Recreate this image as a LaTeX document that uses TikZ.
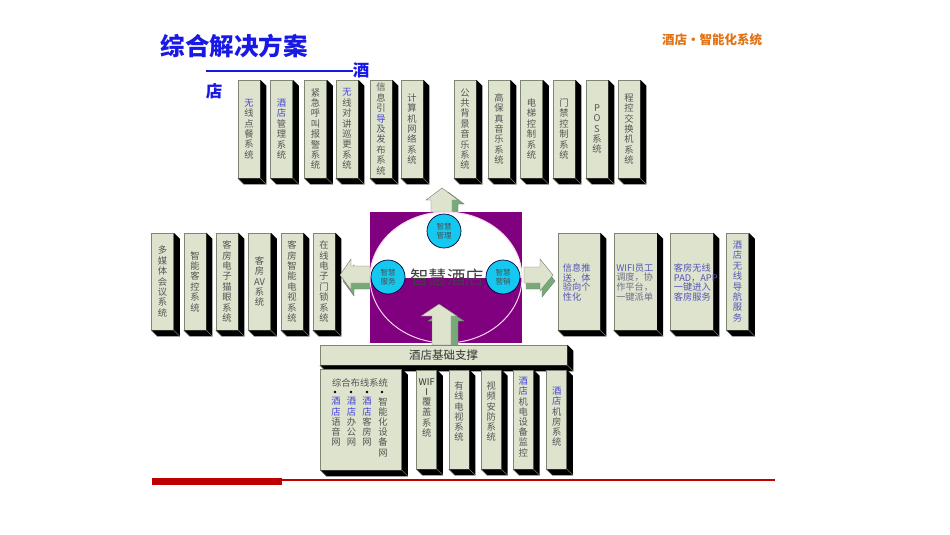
\documentclass[tikz,border=0pt]{standalone}
\usepackage{fontspec}
\setmainfont{Noto Sans CJK SC}
\usetikzlibrary{calc}
\definecolor{boxfill}{RGB}{221,227,204}
\definecolor{framegray}{RGB}{125,135,115}
\definecolor{txtgray}{RGB}{85,85,85}
\definecolor{txtblue}{RGB}{70,70,215}
\definecolor{rtblue}{RGB}{85,85,185}
\definecolor{rtgray}{RGB}{110,110,140}
\definecolor{titleblue}{RGB}{25,25,230}
\definecolor{orangeT}{RGB}{225,115,20}
\definecolor{hotelpurple}{RGB}{128,0,128}
\definecolor{cyanc}{RGB}{20,200,240}
\definecolor{arrgreen}{RGB}{120,170,120}
\definecolor{redline}{RGB}{190,0,0}
\definecolor{edgegray}{RGB}{110,120,110}
\newcommand{\blu}[1]{\textcolor{txtblue}{#1}}
\newcommand{\depthbox}[1]{%
  \fill[black] (#1.north east) -- ++(6,6) -- ($(#1.south east)+(6,6)$) -- ($(#1.south west)+(6,6)$) -- (#1.south west) -- (#1.south east) -- cycle;
  \draw[edgegray, line width=0.6] (#1.south west) -- ++(6,6) (#1.south east) -- ++(6,6);
}
\tikzset{
  fbox/.style={draw=framegray, line width=0.5, fill=boxfill, inner sep=0pt, align=center, text=txtgray, font=\fontsize{9.3}{10.4}\selectfont},
  tbox/.style={fbox, minimum width=22, minimum height=98},
  mbox/.style={fbox, minimum width=22, minimum height=97},
  sbox/.style={fbox, minimum width=20, minimum height=99},
  vt/.style={inner sep=0pt, align=center, text=txtgray, font=\fontsize{9.3}{10.2}\selectfont},
  rt/.style={inner sep=0pt, align=left, text=rtblue, font=\fontsize{9.2}{9.8}\selectfont},
  smartc/.style={circle, minimum size=34, inner sep=0pt, fill=cyanc, draw=black!80!blue, line width=0.7, align=center, text=black!70, font=\fontsize{7.5}{8.5}\selectfont},
  arrfront/.style={fill=boxfill, draw=edgegray, line width=0.4},
  arrback/.style={fill=arrgreen, draw=edgegray, line width=0.4},
}
\begin{document}
\begin{tikzpicture}[x=1pt,y=-1pt]
\fill[white] (0,0) rectangle (950,535);
\useasboundingbox (0,0) rectangle (950,535);

% titles
\node[inner sep=0, font=\fontsize{24.5}{25}\selectfont\bfseries, text=titleblue] (title) at (234,46) {综合解决方案};
\node[inner sep=0, font=\fontsize{16.5}{17}\selectfont\bfseries, text=titleblue] (jiu) at (361,70) {酒};
\node[inner sep=0, font=\fontsize{16.5}{17}\selectfont\bfseries, text=titleblue] (dian) at (214,91) {店};
\coordinate (lstart) at (206,71);
\draw[titleblue, line width=1.5] (lstart) -- (jiu.west |- lstart);
\node[inner sep=0, font=\fontsize{12.5}{13}\selectfont\bfseries, text=orangeT] (sub) at (712,40) {酒店•智能化系统};

% top boxes left group
\node[tbox] (ta1) at (249,129) {\blu{无}\\线\\点\\餐\\系\\统}; \depthbox{ta1}
\node[tbox] (ta2) at (281.5,129) {\blu{酒}\\\blu{店}\\管\\理\\系\\统}; \depthbox{ta2}
\node[tbox] (ta3) at (315.5,129) {紧\\急\\呼\\叫\\报\\警\\系\\统}; \depthbox{ta3}
\node[tbox] (ta4) at (347,129) {\blu{无}\\线\\对\\讲\\巡\\更\\系\\统}; \depthbox{ta4}
\node[tbox] (ta5) at (381,129) {信\\息\\引\\\blu{导}\\及\\发\\布\\系\\统}; \depthbox{ta5}
\node[tbox] (ta6) at (412,129) {计\\算\\机\\网\\络\\系\\统}; \depthbox{ta6}
% top boxes right group
\node[tbox] (tb1) at (465,129) {公\\共\\背\\景\\音\\乐\\系\\统}; \depthbox{tb1}
\node[tbox] (tb2) at (499,129) {高\\保\\真\\音\\乐\\系\\统}; \depthbox{tb2}
\node[tbox] (tb3) at (531.5,129) {电\\梯\\控\\制\\系\\统}; \depthbox{tb3}
\node[tbox] (tb4) at (564,129) {门\\禁\\控\\制\\系\\统}; \depthbox{tb4}
\node[tbox] (tb5) at (597,129) {P\\O\\S\\系\\统}; \depthbox{tb5}
\node[tbox] (tb6) at (629,129) {程\\控\\交\\换\\机\\系\\统}; \depthbox{tb6}

% middle left boxes
\node[mbox] (m1) at (162.5,281.5) {多\\媒\\体\\会\\议\\系\\统}; \depthbox{m1}
\node[mbox] (m2) at (195,281.5) {智\\能\\客\\控\\系\\统}; \depthbox{m2}
\node[mbox] (m3) at (227,281.5) {客\\房\\电\\子\\猫\\眼\\系\\统}; \depthbox{m3}
\node[mbox] (m4) at (259.5,281.5) {客\\房\\AV\\系\\统}; \depthbox{m4}
\node[mbox] (m5) at (292,281.5) {客\\房\\智\\能\\电\\视\\系\\统}; \depthbox{m5}
\node[mbox] (m6) at (324,281.5) {在\\线\\电\\子\\门\\锁\\系\\统}; \depthbox{m6}

% middle right boxes
\node[fbox, minimum width=42, minimum height=97] (r1) at (579,281.5) {}; \depthbox{r1}
\node[fbox, minimum width=43, minimum height=97] (r2) at (635.3,281.5) {}; \depthbox{r2}
\node[fbox, minimum width=43, minimum height=97] (r3) at (691.5,281.5) {}; \depthbox{r3}
\node[fbox, minimum width=22, minimum height=97, text=rtblue] (r4) at (737.5,281.5) {酒\\店\\无\\线\\导\\航\\服\\务}; \depthbox{r4}
\node[rt, anchor=west] (r1t) at ($(r1.west)+(5,1)$) {信息推\\送，体\\验向个\\性化};
\node[rt, anchor=west] (r2t) at ($(r2.west)+(2.5,1)$) {WIFI员工\\\textcolor{rtgray}{调度，协}\\\textcolor{rtgray}{作平台，}\\\textcolor{rtgray}{一键派单}};
\node[rt, anchor=west] (r3t) at ($(r3.west)+(4,1)$) {客房无线\\PAD，APP\\一键进入\\客房服务};

% side arrows (behind centre)
\fill[arrback, shift={(6,4)}] (442,188) -- (458,200) -- (452,200) -- (452,212) -- (431,212) -- (431,200) -- (426,200) -- cycle;
\fill[arrfront] (442,188) -- (458,200) -- (452,200) -- (452,212) -- (431,212) -- (431,200) -- (426,200) -- cycle;
\fill[arrback, shift={(3,6)}] (340,275) -- (351,259) -- (351,266) -- (370,266) -- (370,283) -- (351,283) -- (351,290) -- cycle;
\fill[arrfront] (340,275) -- (351,259) -- (351,266) -- (370,266) -- (370,283) -- (351,283) -- (351,290) -- cycle;
\fill[arrback, shift={(2,6)}] (553,275) -- (540,259) -- (540,267) -- (524,267) -- (524,283) -- (540,283) -- (540,291) -- cycle;
\fill[arrfront] (553,275) -- (540,259) -- (540,267) -- (524,267) -- (524,283) -- (540,283) -- (540,291) -- cycle;

% centre
\fill[hotelpurple] (370,212) rectangle (522,343);
\begin{scope}
  \clip (370,212) rectangle (522,277.5);
  \fill[white] (446,277.5) ellipse [x radius=76, y radius=65.5];
\end{scope}
\draw[white!85!magenta, line width=1] (446,277.5) ellipse [x radius=76, y radius=65.5];
\node[inner sep=0, font=\fontsize{18.5}{19}\selectfont, text=black!75] (zhjd) at (447,277) {智慧酒店};
\node[smartc] (c1) at (444,231) {智慧\\管理};
\node[smartc] (c2) at (388,277) {智慧\\服务};
\node[smartc] (c3) at (503,277) {智慧\\营销};

% bottom arrow
\fill[arrback, shift={(7,5)}] (439,304) -- (457,316) -- (451,316) -- (451,345) -- (432,345) -- (432,316) -- (421,316) -- cycle;
\fill[arrfront] (439,304) -- (457,316) -- (451,316) -- (451,345) -- (432,345) -- (432,316) -- (421,316) -- cycle;

% base bar
\node[fbox, minimum width=247, minimum height=20, text=black!80, font=\fontsize{11.5}{12}\selectfont] (base) at (443.5,355) {酒店基础支撑}; \depthbox{base}

% bottom boxes
\node[fbox, minimum width=81, minimum height=101] (bb) at (361.2,419.5) {}; \depthbox{bb}
\node[vt] (bbt) at (360,383) {综合布线系统};
\foreach \bx in {335,351,367,382} {\fill[black] (\bx,392) circle [radius=1.3];}
\node[vt, anchor=north] (col1) at (336,397) {\blu{酒}\\\blu{店}\\语\\音\\网};
\node[vt, anchor=north] (col2) at (351.5,397) {\blu{酒}\\\blu{店}\\办\\公\\网};
\node[vt, anchor=north] (col3) at (367,397) {\blu{酒}\\\blu{店}\\客\\房\\网};
\node[vt, anchor=north] (col4) at (383,397) {智\\能\\化\\设\\备\\网};

\node[sbox] (s1) at (426.7,419.5) {}; \depthbox{s1}
\node[sbox] (s2) at (459,419.5) {}; \depthbox{s2}
\node[sbox] (s3) at (491.3,419.5) {}; \depthbox{s3}
\node[sbox] (s4) at (523.3,419.5) {}; \depthbox{s4}
\node[sbox] (s5) at (556.7,419.5) {}; \depthbox{s5}
\node[vt, anchor=north, text=black!80] (s1t) at ($(s1.north)+(0,8.5)$) {WIF\\I\\\textcolor{txtgray}{覆}\\\textcolor{txtgray}{盖}\\\textcolor{txtgray}{系}\\\textcolor{txtgray}{统}};
\node[vt, anchor=north] (s2t) at ($(s2.north)+(0,12)$) {有\\线\\电\\视\\系\\统};
\node[vt, anchor=north] (s3t) at ($(s3.north)+(0,12)$) {视\\频\\安\\防\\系\\统};
\node[vt, anchor=north] (s4t) at ($(s4.north)+(0,7)$) {\blu{酒}\\\blu{店}\\机\\电\\设\\备\\监\\控};
\node[vt, anchor=north] (s5t) at ($(s5.north)+(0,17)$) {\blu{酒}\\\blu{店}\\机\\房\\系\\统};

% red rule
\fill[redline] (152,478) rectangle (282,485);
\coordinate (rl1) at (282,480);
\coordinate (rl2) at (775,480);
\draw[redline, line width=2] (rl1) -- (rl2);
\end{tikzpicture}
\end{document}
